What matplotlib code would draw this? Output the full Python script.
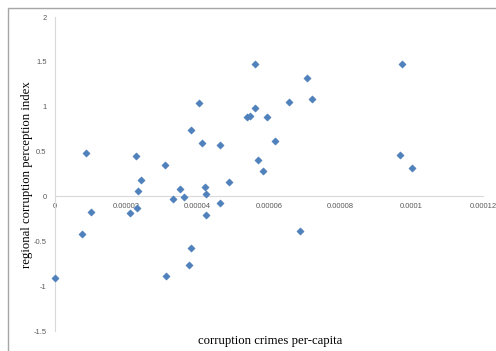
import matplotlib
matplotlib.use("Agg")
import matplotlib.pyplot as plt
from matplotlib.patches import Rectangle

# corruption crimes per capita (x) vs regional corruption perception index (y)
crimes = [0.0, 0.76e-5, 0.87e-5, 1.0e-5, 2.1e-5, 2.3e-5, 2.27e-5, 2.33e-5, 2.41e-5,
          3.09e-5, 3.10e-5, 3.30e-5, 3.50e-5, 3.61e-5, 3.75e-5, 3.80e-5, 3.81e-5,
          4.05e-5, 4.12e-5, 4.21e-5, 4.22e-5, 4.24e-5, 4.64e-5, 4.64e-5, 4.88e-5,
          5.38e-5, 5.46e-5, 5.60e-5, 5.61e-5, 5.69e-5, 5.82e-5, 5.95e-5, 6.18e-5,
          6.56e-5, 6.88e-5, 7.06e-5, 7.20e-5, 9.68e-5, 9.73e-5, 10.0e-5]
perception = [-0.91, -0.42, 0.48, -0.175, -0.18, -0.13, 0.45, 0.06, 0.18,
              0.35, -0.89, -0.03, 0.086, -0.01, -0.76, 0.74, -0.57,
              1.04, 0.60, 0.10, -0.21, 0.03, 0.57, -0.07, 0.16,
              0.88, 0.90, 0.99, 1.48, 0.41, 0.28, 0.885, 0.62,
              1.05, -0.38, 1.32, 1.09, 0.46, 1.48, 0.32]

xticks = [0, 0.00002, 0.00004, 0.00006, 0.00008, 0.0001, 0.00012]
xlabels = ["0", "0.00002", "0.00004", "0.00006", "0.00008", "0.0001", "0.00012"]
yticks = [-1.5, -1, -0.5, 0, 0.5, 1, 1.5, 2]
ylabels = ["-1.5", "-1", "-0.5", "0", "0.5", "1", "1.5", "2"]

fig = plt.figure(figsize=(4.96, 3.51), dpi=100)
fig.patches.append(Rectangle((8/496, -0.1), 1.2, 1 - 8/351 + 0.1,
                             transform=fig.transFigure, fill=False,
                             edgecolor="#a6a6a6", linewidth=1.0))
ax = fig.add_axes([55/496, 20/351, 428/496, 314/351])

ax.scatter(crimes, perception, marker="D", s=14, color="#4f81bd",
           edgecolors="#4a7ab5", linewidths=0.3, clip_on=False, zorder=3)

ax.set_xlim(0, 0.00012)
ax.set_ylim(-1.5, 2)
ax.set_xticks(xticks)
ax.set_xticklabels(xlabels)
ax.set_yticks(yticks)
ax.set_yticklabels(ylabels)

for s in ["top", "right"]:
    ax.spines[s].set_visible(False)
ax.spines["bottom"].set_position(("data", 0))
ax.spines["bottom"].set_color("#d9d9d9")
ax.spines["left"].set_color("#d9d9d9")
ax.tick_params(length=0, labelsize=5.5, labelcolor="#595959", pad=6)
ax.tick_params(axis="x", pad=5)
for t in ax.get_xticklabels() + ax.get_yticklabels():
    t.set_family("Liberation Sans")

fig.text(270/496, 1 - 341/351, "corruption crimes per-capita", ha="center",
         va="center", family="Liberation Serif", fontsize=9.2)
fig.text(27/496, 1 - 175/351, "regional corruption perception index",
         ha="center", va="center", rotation=90, family="Liberation Serif",
         fontsize=9.2)

fig.savefig("out.png", dpi=100)
